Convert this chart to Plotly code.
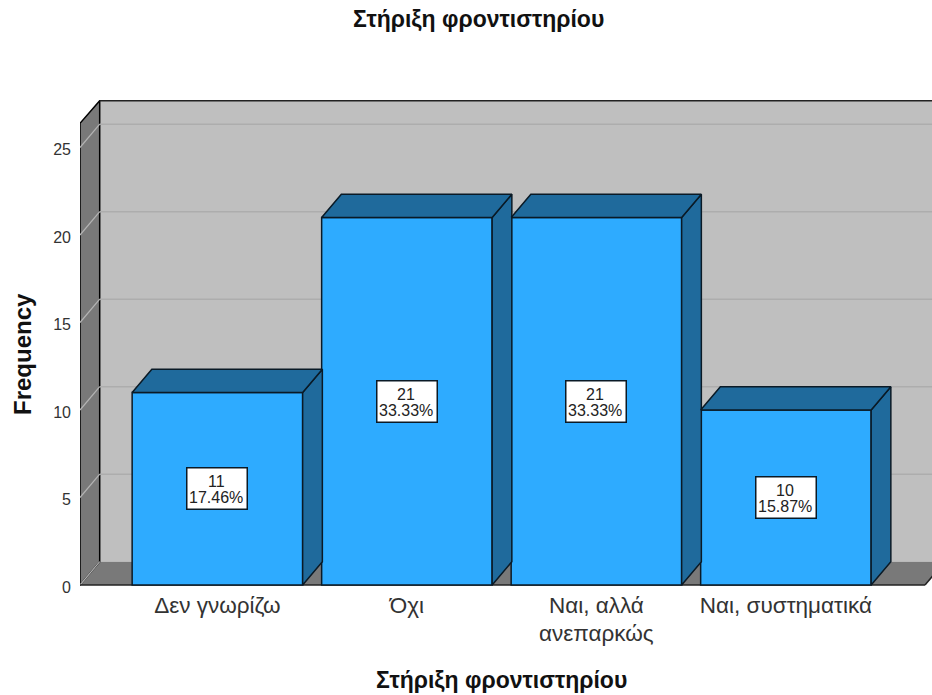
import plotly.graph_objects as go

categories = ["Δεν γνωρίζω", "Όχι", "Ναι, αλλά<br>ανεπαρκώς", "Ναι, συστηματικά"]
counts = [11, 21, 21, 10]
percents = ["17.46%", "33.33%", "33.33%", "15.87%"]
y_ticks = [0, 5, 10, 15, 20, 25]
title_text = "Στήριξη φροντιστηρίου"

WIDTH, HEIGHT = 932, 695
BASE_EXT = 2
M_L, M_R, M_T, M_B = 80, 0, 100, 110 - BASE_EXT
PX_PER_CAT, PX_PER_VAL = 189.5, 17.5
CAT0_PX = 217.4
X_MIN = (M_L - CAT0_PX) / PX_PER_CAT
X_MAX = (WIDTH - M_R - CAT0_PX) / PX_PER_CAT
Y_MAX = (HEIGHT - M_T - 110) / PX_PER_VAL
Y_MIN = -BASE_EXT / PX_PER_VAL
DX, DY = 19.7 / PX_PER_CAT, 23.3 / PX_PER_VAL
BAR_W = 170.5 / PX_PER_CAT
FLOOR_END = (925 - CAT0_PX) / PX_PER_CAT
PLOT_W, PLOT_H = WIDTH - M_L - M_R, HEIGHT - M_T - M_B

WALL, SIDE = "#bfbfbf", "#797979"
FRONT, DARK = "#2eabff", "#1f6a9c"
EDGE = "#0a1a26"
FONT = "Liberation Sans"


def poly(points, fill, line="black", width=1.5):
    path = "M " + " L ".join(f"{x},{y}" for x, y in points) + " Z"
    return dict(type="path", path=path, fillcolor=fill, layer="below",
                line=dict(color=line, width=width), xref="x", yref="y")


def seg(p, q, color, width=1.5):
    return dict(type="line", x0=p[0], y0=p[1], x1=q[0], y1=q[1], layer="below",
                line=dict(color=color, width=width), xref="x", yref="y")


shapes = [
    poly([(X_MIN + DX, DY), (X_MAX + 1, DY), (X_MAX + 1, Y_MAX), (X_MIN + DX, Y_MAX)], WALL, width=0),
    poly([(X_MIN, 0), (FLOOR_END, 0), (FLOOR_END + DX, DY), (X_MIN + DX, DY)], SIDE, width=0),
    poly([(X_MIN, 0), (X_MIN + DX, DY), (X_MIN + DX, Y_MAX - 0.04), (X_MIN, Y_MAX - DY)], SIDE),
    seg((X_MIN + DX, Y_MAX - 0.04), (X_MAX + 1, Y_MAX - 0.04), "#222222"),
    seg((FLOOR_END, 0), (FLOOR_END + DX, DY), "#222222"),
]
for v in y_ticks:
    if v:
        shapes.append(seg((X_MIN + DX, v + DY), (X_MAX + 1, v + DY), "#adadad"))
    shapes.append(seg((X_MIN, v), (X_MIN + DX, v + DY), "#b4b4b4", 1.2))
shapes.append(seg((X_MIN, 0), (FLOOR_END, 0), "#222222"))

fig = go.Figure()
fig.add_trace(go.Bar(x=list(range(len(counts))), y=counts, width=BAR_W,
                     marker=dict(color=FRONT, line=dict(color=EDGE, width=1.5)),
                     hoverinfo="skip", showlegend=False))

for i, v in enumerate(counts):
    l, r = i - BAR_W / 2, i + BAR_W / 2
    fig.add_trace(go.Scatter(x=[r, r + DX, r + DX, r, r], y=[0, DY, v + DY, v, 0],
                             mode="lines", fill="toself", fillcolor=DARK,
                             line=dict(color=EDGE, width=1.5),
                             hoverinfo="skip", showlegend=False))
    fig.add_trace(go.Scatter(x=[l, r, r + DX, l + DX, l], y=[v, v, v + DY, v + DY, v],
                             mode="lines", fill="toself", fillcolor=DARK,
                             line=dict(color=EDGE, width=1.5),
                             hoverinfo="skip", showlegend=False))

annotations = []
for i, (v, p) in enumerate(zip(counts, percents)):
    annotations.append(dict(x=i, y=v / 2, text=" ", showarrow=False, width=59, height=40,
                            bgcolor="white", bordercolor=EDGE, borderwidth=1.5, borderpad=0))
    annotations.append(dict(x=i, y=v / 2, text=str(v), showarrow=False, yshift=7, xshift=-1,
                            font=dict(family=FONT, size=16, color="#222222")))
    annotations.append(dict(x=i, y=v / 2, text=p, showarrow=False, yshift=-9, xshift=-1,
                            font=dict(family=FONT, size=16, color="#222222")))

tick_first = [c.split("<br>")[0] for c in categories]
for i, c in enumerate(categories):
    parts = c.split("<br>")
    if len(parts) > 1:
        annotations.append(dict(x=i, y=0, text=parts[1], showarrow=False, yanchor="middle",
                                yshift=-48, font=dict(family=FONT, size=22.5, color="#333333")))


def px_x(p):
    return (p - M_L) / PLOT_W


def px_y(p):
    return (HEIGHT - M_B - p) / PLOT_H


bold = dict(family=FONT, size=23, color="#111111")
annotations.append(dict(xref="paper", yref="paper", x=px_x(478), y=px_y(19), xanchor="center", yanchor="middle",
                        text=f"<b>{title_text}</b>", showarrow=False, font=bold))
annotations.append(dict(xref="paper", yref="paper", x=px_x(501), y=px_y(680), xanchor="center", yanchor="middle",
                        text=f"<b>{title_text}</b>", showarrow=False, font=bold))
annotations.append(dict(xref="paper", yref="paper", x=px_x(22), y=px_y(354), xanchor="center", yanchor="middle",
                        text="<b>Frequency</b>", textangle=-90, showarrow=False,
                        font=dict(family=FONT, size=24, color="#111111")))

fig.update_layout(
    width=WIDTH, height=HEIGHT, margin=dict(l=M_L, r=M_R, t=M_T, b=M_B),
    paper_bgcolor="white", plot_bgcolor="white",
    shapes=shapes, annotations=annotations,
    xaxis=dict(range=[X_MIN, X_MAX], tickmode="array", tickvals=list(range(len(categories))),
               ticktext=tick_first, showgrid=False, zeroline=False, ticks="",
               showline=False, ticklabelstandoff=2,
               tickfont=dict(family=FONT, size=22.5, color="#333333")),
    yaxis=dict(range=[Y_MIN, Y_MAX], tickmode="array", tickvals=y_ticks, showgrid=False,
               zeroline=False, ticks="", showline=False, ticklabelstandoff=8, ticklabelshift=2,
               tickfont=dict(family=FONT, size=16, color="#333333")),
)
fig.write_html("out.html", config=dict(displayModeBar=False),
               post_script="document.body.style.margin='0';document.body.style.overflow='hidden';")
